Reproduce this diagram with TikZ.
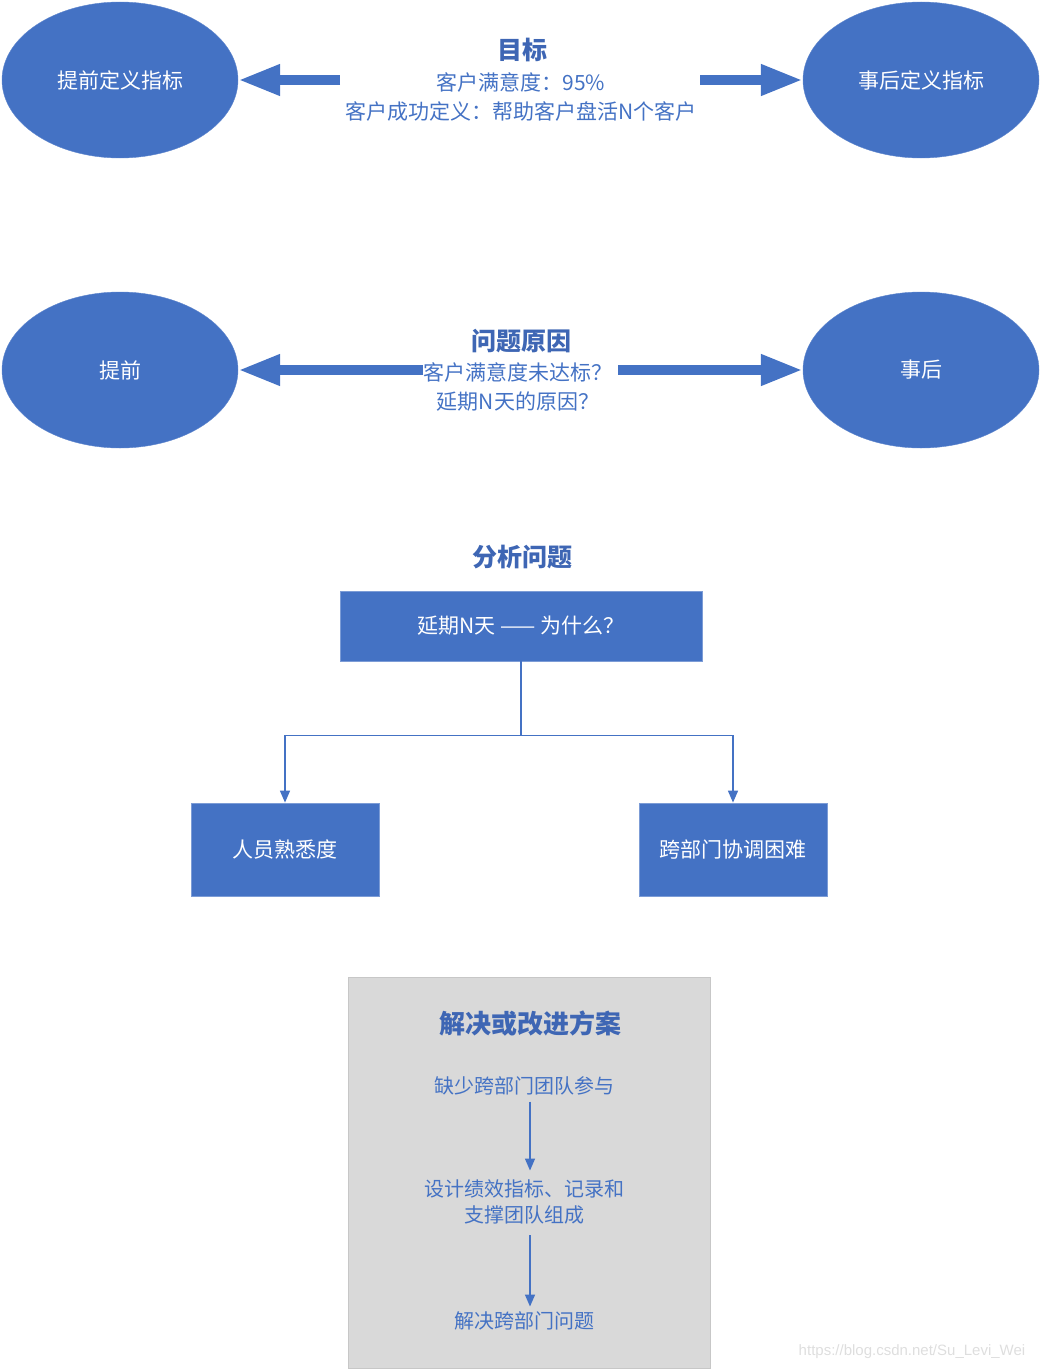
\documentclass[tikz,border=0pt]{standalone}
\usepackage{fontspec}
\setmainfont{Noto Sans CJK SC}
\newfontfamily\markfont{Liberation Sans}
\usetikzlibrary{shapes.geometric}
\usetikzlibrary{arrows.meta}

\definecolor{ppblue}{HTML}{4472C4}
\definecolor{pptitle}{HTML}{3E66B4}
\definecolor{ppgray}{HTML}{D9D9D9}

\newcommand{\txtsize}[2]{\fontsize{#1}{#2}\selectfont}

\begin{document}
\begin{tikzpicture}[x=1pt,y=-1pt,
  oval/.style={ellipse,fill=ppblue,draw=ppblue!85!white,minimum width=236pt,minimum height=156pt,inner sep=0pt,text=white,font=\txtsize{21}{26}},
  bluebox/.style={rectangle,fill=ppblue,draw=ppblue!70!white,line width=0.8pt,text=white,font=\txtsize{21}{26},inner sep=0pt},
  heading/.style={text=pptitle,font=\bfseries\txtsize{25}{30},inner sep=1pt},
  plain/.style={text=ppblue,font=\txtsize{20}{26},inner sep=1pt,align=center},
  wide/.style={plain,font=\txtsize{21}{26}},
  fatarrow/.style={ppblue,line width=10pt,-{Triangle[width=29pt,length=42pt]}},
  slimarrow/.style={ppblue,line width=1.5pt,-{Triangle[width=10pt,length=12pt]}}]
  \useasboundingbox (0,0) rectangle (1041,1370);

  % goal
  \node[oval] (defpre) at (120,80) {提前定义指标};
  \node[oval] (defpost) at (921,80) {事后定义指标};
  \node[heading] (goal) at (522,50) {目标};
  \node[wide] (goalA) at (521,82) {客户满意度：95\%};
  \node[wide] (goalB) at (521,111) {客户成功定义：帮助客户盘活N个客户};
  \coordinate (goalL) at (340,80);
  \coordinate (goalR) at (700,80);
  \draw[fatarrow] (goalL) -- (defpre);
  \draw[fatarrow] (goalR) -- (defpost);

  % causes
  \node[oval] (pre) at (120,370) {提前};
  \node[oval] (post) at (921,370) {事后};
  \node[heading] (cause) at (521,341) {问题原因};
  \node[wide] (causeA) at (518,372) {客户满意度未达标？};
  \node[wide] (causeB) at (518,402) {延期N天的原因？};
  \coordinate (causeL) at (423,370);
  \coordinate (causeR) at (618,370);
  \draw[fatarrow] (causeL) -- (pre);
  \draw[fatarrow] (causeR) -- (post);

  % analysis
  \node[heading] (analyse) at (522,557) {分析问题};
  \node[bluebox,minimum width=362pt,minimum height=70pt] (delay) at (521,626) {延期N天 —— 为什么？};
  \node[bluebox,minimum width=188pt,minimum height=93pt] (staff) at (285,849.5) {人员熟悉度};
  \node[bluebox,minimum width=188pt,minimum height=93pt] (cross) at (733,849.5) {跨部门协调困难};
  \draw[slimarrow] (delay.south) -- ++(0,74) -| (staff.north);
  \draw[slimarrow] (delay.south) -- ++(0,74) -| (cross.north);

  % solution
  \node[rectangle,fill=ppgray,draw=black!22,line width=0.8pt,minimum width=362pt,minimum height=391pt,inner sep=0pt] (solbox) at (529,1172.5) {};
  \node[heading,font=\bfseries\txtsize{26}{31}] (sol) at (530,1024) {解决或改进方案};
  \node[plain] (stepA) at (524,1086) {缺少跨部门团队参与};
  \node[plain] (stepB) at (524,1202) {设计绩效指标、记录和\\支撑团队组成};
  \node[plain] (stepC) at (524,1321) {解决跨部门问题};
  \draw[slimarrow,shorten <=5pt,shorten >=8pt] ([xshift=6pt]stepA.south) -- ([xshift=6pt]stepB.north);
  \draw[slimarrow,shorten <=10pt,shorten >=4pt] ([xshift=6pt]stepB.south) -- ([xshift=6pt]stepC.north);

  \node[text=black!13,font=\markfont\fontsize{15}{18}\selectfont,inner sep=0pt] (mark) at (912,1352) {https://blog.csdn.net/Su\_Levi\_Wei};
\end{tikzpicture}
\end{document}
